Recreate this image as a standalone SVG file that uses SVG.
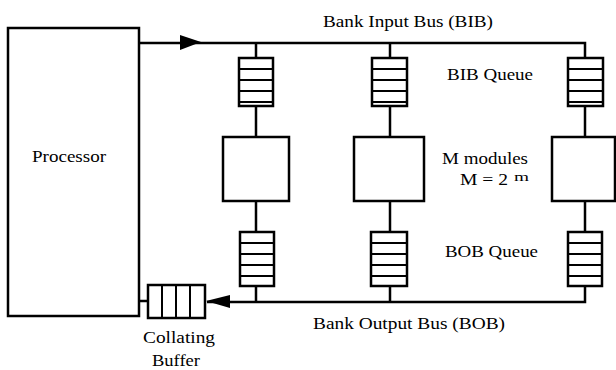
<svg xmlns="http://www.w3.org/2000/svg" width="616" height="370" viewBox="0 0 616 370">
<style>
.box{fill:#fff;stroke:#000;stroke-width:2.5}
.ln{fill:none;stroke:#000;stroke-width:2.5}
.dv{fill:none;stroke:#000;stroke-width:2}
.t{font-family:"Times New Roman",Times,"Liberation Serif","DejaVu Serif",Tinos,serif;font-size:17px;fill:#000}
.arr{fill:#000;stroke:none}
</style>
<rect width="616" height="370" fill="#fff"/>
<g id="connectors">
<polyline class="ln" points="139,43 585,43 585,58"/>
<line class="ln" x1="256" y1="43" x2="256" y2="58"/>
<line class="ln" x1="390" y1="43" x2="390" y2="58"/>
<line class="ln" x1="256" y1="106" x2="256" y2="137"/>
<line class="ln" x1="390" y1="106" x2="390" y2="137"/>
<line class="ln" x1="585" y1="106" x2="585" y2="137"/>
<line class="ln" x1="256" y1="201" x2="256" y2="232"/>
<line class="ln" x1="390" y1="201" x2="390" y2="232"/>
<line class="ln" x1="585" y1="201" x2="585" y2="232"/>
<line class="ln" x1="256" y1="286" x2="256" y2="302"/>
<line class="ln" x1="390" y1="286" x2="390" y2="302"/>
<polyline class="ln" points="585,286 585,302 207,302"/>
<line class="ln" x1="139" y1="301" x2="148" y2="301"/>
<polygon class="arr" points="180,35 201,42 180,50"/>
<polygon class="arr" points="206,301 230,295 230,308"/>
</g>
<g id="processor">
<rect class="box" x="8" y="28" width="131" height="288"/>
<text class="t" x="32" y="162" textLength="74" lengthAdjust="spacingAndGlyphs">Processor</text>
</g>
<g id="bib-queue-1">
<rect class="box" x="239" y="58" width="34" height="48"/>
<path class="dv" d="M239 69H273M239 80H273M239 91H273M239 102H273"/>
</g>
<g id="bib-queue-2">
<rect class="box" x="372" y="58" width="35" height="48"/>
<path class="dv" d="M372 69H407M372 80H407M372 91H407M372 102H407"/>
</g>
<g id="bib-queue-3">
<rect class="box" x="568" y="58" width="35" height="48"/>
<path class="dv" d="M568 69H603M568 80H603M568 91H603M568 102H603"/>
</g>
<g id="module-1"><rect class="box" x="223" y="137" width="66" height="64"/></g>
<g id="module-2"><rect class="box" x="354" y="137" width="70" height="64"/></g>
<g id="module-3"><rect class="box" x="552" y="137" width="63" height="64"/></g>
<g id="bob-queue-1">
<rect class="box" x="240" y="232" width="34" height="54"/>
<path class="dv" d="M240 243H274M240 254H274M240 265H274M240 276H274"/>
</g>
<g id="bob-queue-2">
<rect class="box" x="371" y="232" width="36" height="54"/>
<path class="dv" d="M371 243H407M371 254H407M371 265H407M371 276H407"/>
</g>
<g id="bob-queue-3">
<rect class="box" x="568" y="232" width="34" height="54"/>
<path class="dv" d="M568 243H602M568 254H602M568 265H602M568 276H602"/>
</g>
<g id="collating-buffer">
<rect class="box" x="148" y="285" width="57" height="33"/>
<path class="dv" d="M162 285V318M176 285V318M190 285V318"/>
<text class="t" x="143" y="343" textLength="72" lengthAdjust="spacingAndGlyphs">Collating</text>
<text class="t" x="152" y="366" textLength="48" lengthAdjust="spacingAndGlyphs">Buffer</text>
</g>
<g id="labels">
<text class="t" x="323" y="27" textLength="170" lengthAdjust="spacingAndGlyphs">Bank Input Bus (BIB)</text>
<text class="t" x="447" y="80" textLength="86" lengthAdjust="spacingAndGlyphs">BIB Queue</text>
<text class="t" x="442" y="164" textLength="86" lengthAdjust="spacingAndGlyphs">M modules</text>
<text class="t" x="460" y="185" textLength="48" lengthAdjust="spacingAndGlyphs">M = 2</text>
<text class="t" x="514" y="181" style="font-size:13px" textLength="15" lengthAdjust="spacingAndGlyphs">m</text>
<text class="t" x="445" y="257" textLength="93" lengthAdjust="spacingAndGlyphs">BOB Queue</text>
<text class="t" x="313" y="329" textLength="192" lengthAdjust="spacingAndGlyphs">Bank Output Bus (BOB)</text>
</g>
</svg>
